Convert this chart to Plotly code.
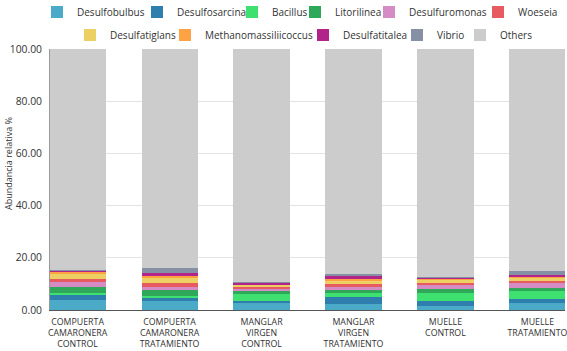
import plotly.graph_objects as go

categories = ["COMPUERTA<br>CAMARONERA<br>CONTROL", "COMPUERTA<br>CAMARONERA<br>TRATAMIENTO",
              "MANGLAR<br>VIRGEN<br>CONTROL", "MANGLAR<br>VIRGEN<br>TRATAMIENTO",
              "MUELLE<br>CONTROL", "MUELLE<br>TRATAMIENTO"]

desulfobulbus = [4.0, 3.3, 2.7, 2.3, 1.4, 2.6]
desulfosarcina = [1.9, 1.3, 0.6, 2.6, 1.9, 1.5]
bacillus = [0.8, 0.8, 3.2, 1.5, 3.4, 3.1]
litorilinea = [2.2, 2.3, 0.6, 1.3, 1.3, 1.3]
desulfuromonas = [1.7, 1.0, 1.1, 1.0, 1.9, 1.9]
woeseia = [1.4, 1.5, 0.8, 1.2, 0.6, 0.9]
desulfatiglans = [1.8, 2.3, 0.6, 1.5, 1.0, 1.0]
methanomassiliicoccus = [0.6, 0.6, 0.3, 0.6, 0.5, 0.5]
desulfatitalea = [0.9, 0.9, 0.5, 0.9, 0.6, 0.8]
vibrio = [0.2, 2.0, 0.2, 1.0, 0.2, 1.3]

series = [
    ("Desulfobulbus", desulfobulbus, "#4aaac8"),
    ("Desulfosarcina", desulfosarcina, "#2f7fae"),
    ("Bacillus", bacillus, "#3ee06f"),
    ("Litorilinea", litorilinea, "#2fa85a"),
    ("Desulfuromonas", desulfuromonas, "#d58bc3"),
    ("Woeseia", woeseia, "#e65a60"),
    ("Desulfatiglans", desulfatiglans, "#ecd064"),
    ("Methanomassiliicoccus", methanomassiliicoccus, "#ffa244"),
    ("Desulfatitalea", desulfatitalea, "#b3248a"),
    ("Vibrio", vibrio, "#8590a5"),
]
others = [round(100 - sum(s[1][i] for s in series), 2) for i in range(len(categories))]
series.append(("Others", others, "#cccccc"))

# legend layout: left edge (px) of each entry swatch and its row
legend_left_px = [57, 157, 252, 315, 389, 498, 90, 185, 323, 417, 480]
legend_row = [0, 0, 0, 0, 0, 0, 1, 1, 1, 1, 1]
row_center_px = [12, 35]
W, H = 567, 351
PL, PR, PT, PB = 50, 2, 49, 41

fig = go.Figure()
layout_legends = {}
for i, (name, vals, color) in enumerate(series):
    key = "legend" if i == 0 else f"legend{i + 1}"
    fig.add_trace(go.Bar(x=categories, y=vals, name=name,
                         marker=dict(color=color, line=dict(width=0)),
                         width=0.61, legend=key))
    layout_legends[key] = dict(
        x=(legend_left_px[i] - 20) / W, xref="container", xanchor="left",
        y=1 - row_center_px[legend_row[i]] / H, yref="container", yanchor="middle",
        bgcolor="rgba(255,255,255,0)", borderwidth=0,
        font=dict(size=10, color="#333333"),
        itemwidth=30, orientation="h",
    )

plot_h = H - PT - PB
plot_w = W - PL - PR
fig.update_layout(
    barmode="stack",
    width=W, height=H,
    margin=dict(l=PL, r=PR, t=PT, b=PB, autoexpand=False),
    paper_bgcolor="white", plot_bgcolor="white",
    font=dict(family="Open Sans", size=11, color="#333333"),
    showlegend=True,
    annotations=[dict(text="Abundancia relativa %", textangle=-90, showarrow=False,
                      xref="paper", yref="paper",
                      x=(8 - PL) / plot_w, y=(H - PB - 164) / plot_h,
                      xanchor="center", yanchor="middle",
                      font=dict(size=9, color="#333333"))],
    **layout_legends,
)
fig.update_yaxes(range=[0, 100], tickvals=[0, 20, 40, 60, 80, 100], tickformat=".2f",
                 showgrid=True, gridcolor="#e3e3e3", showline=True, linecolor="#999999",
                 ticks="", tickfont=dict(size=10.3), ticklabelstandoff=5)
fig.update_xaxes(range=[-0.3, 5.3], showline=True, linecolor="#555555", linewidth=1,
                 tickfont=dict(size=8.8), ticks="", ticklabelstandoff=3)

fig.write_html("out.html")
